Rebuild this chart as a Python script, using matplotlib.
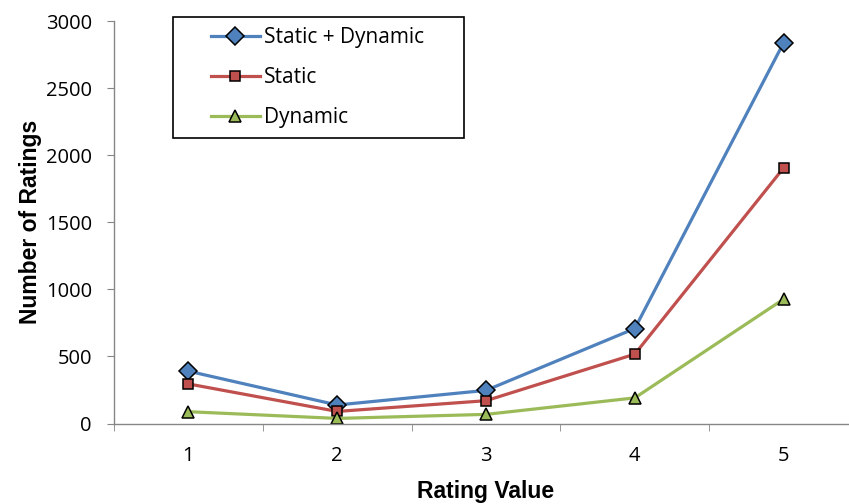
import matplotlib
matplotlib.use("Agg")
import matplotlib.pyplot as plt
from matplotlib.patches import Rectangle
import numpy as np

# data
ratings = [1, 2, 3, 4, 5]
static_dynamic = [390, 138, 247, 708, 2838]
static = [295, 90, 170, 517, 1905]
dynamic = [88, 38, 68, 191, 927]

fig = plt.figure(figsize=(8.49, 5.04), dpi=100)
# x axis runs slightly past the right edge, as in the reference
ax = fig.add_axes([0.1343, 0.1597, 0.8763, 0.7986])

x = np.arange(len(ratings))
ax.plot(x, static_dynamic, color="#4F81BD", lw=2.3, marker="D", ms=9,
        mfc="#4F81BD", mec="black", mew=1.1, label="Static + Dynamic", clip_on=False)
ax.plot(x, static, color="#C0504D", lw=2.3, marker="s", ms=7.5,
        mfc="#C0504D", mec="black", mew=1.1, label="Static", clip_on=False)
ax.plot(x, dynamic, color="#9BBB59", lw=2.3, marker="^", ms=8,
        mfc="#9BBB59", mec="black", mew=1.1, label="Dynamic", clip_on=False)

ax.set_xlim(-0.5, len(ratings) - 0.5)
ax.set_ylim(0, 3000)
ax.set_yticks(np.arange(0, 3001, 500))
ax.set_xticks(x)
ax.set_xticklabels([str(r) for r in ratings])
ax.set_xticks(np.arange(-0.5, len(ratings)), minor=True)
ax.tick_params(axis="x", which="major", length=0, pad=16.5)
ax.tick_params(axis="x", which="minor", length=5, direction="out", color="#868686")
ax.tick_params(axis="y", length=5, direction="out", color="#868686", pad=11)

for lab in ax.get_xticklabels() + ax.get_yticklabels():
    lab.set_fontfamily("Open Sans")
    lab.set_fontsize(14.5)

for s in ["top", "right"]:
    ax.spines[s].set_visible(False)
for s in ["left", "bottom"]:
    ax.spines[s].set_color("#868686")
    ax.spines[s].set_linewidth(1.0)

ax.set_xlabel("Rating Value", fontfamily="Liberation Sans", fontweight="bold",
              fontsize=16.5, labelpad=9.5)
ax.set_ylabel("Number of Ratings", fontfamily="Liberation Sans", fontweight="bold",
              fontsize=16.5, labelpad=2.5)

# legend entries without frame, box drawn separately (wide side padding)
leg = fig.legend(loc="center left", bbox_to_anchor=(211 / 849, 1 - 77.5 / 504),
                 prop={"family": "Open Sans", "size": 15}, frameon=False,
                 handlelength=2.35, labelspacing=0.91, borderpad=0,
                 handletextpad=0.2, borderaxespad=0)
fig.add_artist(Rectangle((173 / 849, 1 - 138 / 504), 291 / 849, 121 / 504,
                         transform=fig.transFigure, fill=False,
                         edgecolor="black", lw=1.2))

fig.savefig("out.png", dpi=100)
